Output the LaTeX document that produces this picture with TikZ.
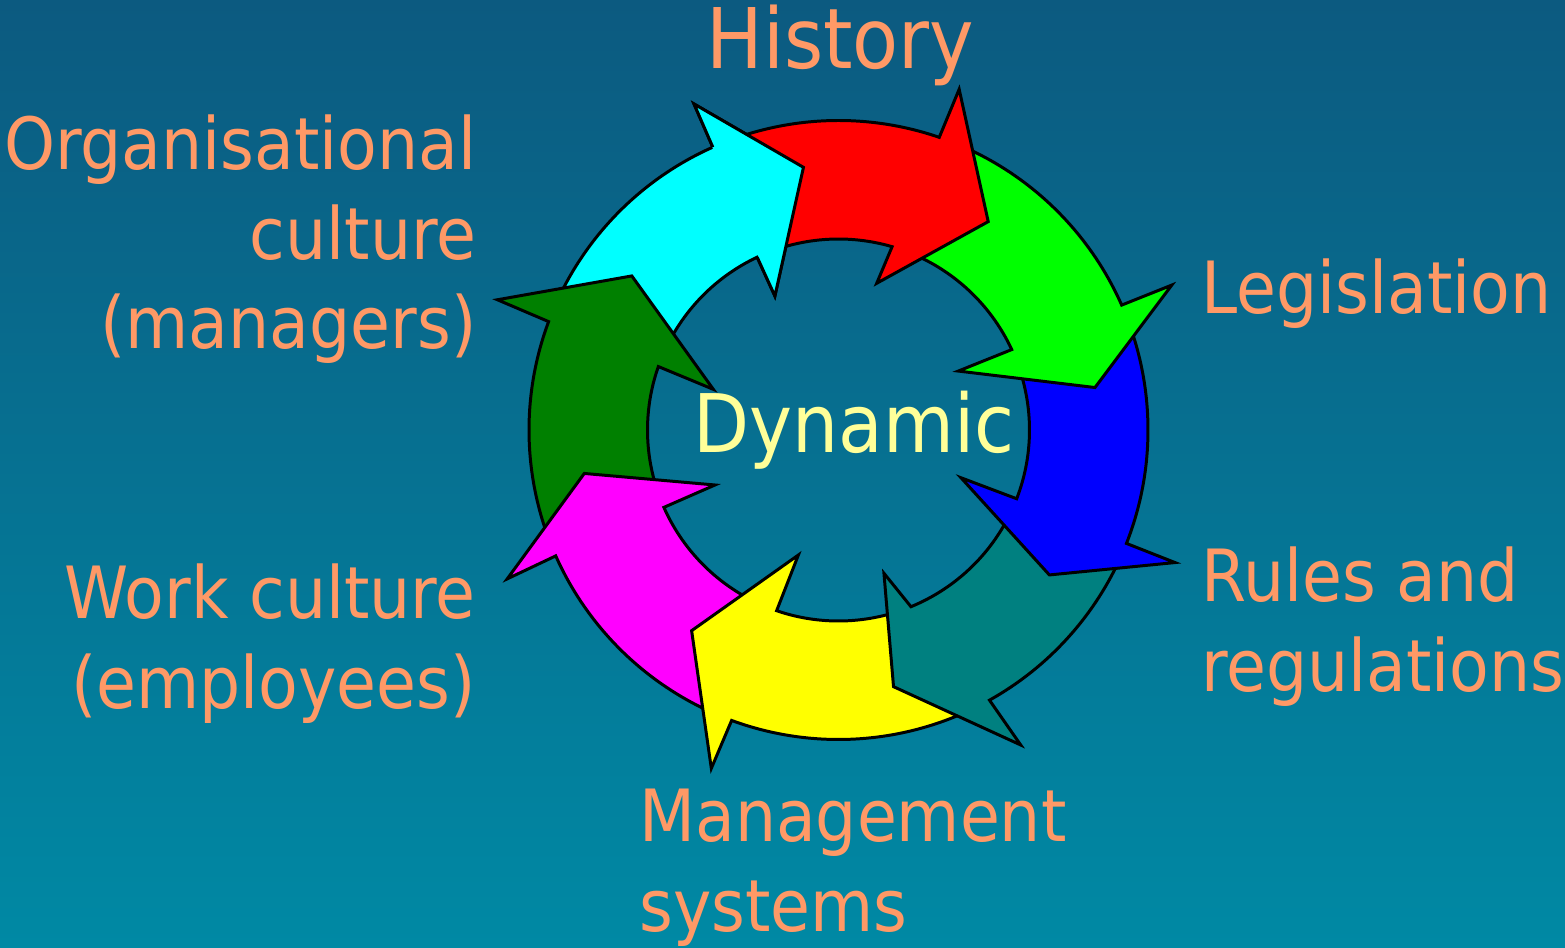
\documentclass[tikz,border=0pt]{standalone}
\usepackage{fontspec}
\setmainfont{DejaVu Sans}[FakeStretch=0.9]
\definecolor{bgtop}{RGB}{12,90,128}
\definecolor{bgbot}{RGB}{0,137,164}
\definecolor{labelorange}{RGB}{255,153,102}
\definecolor{hubyellow}{RGB}{255,255,153}
\definecolor{arrowcyan}{RGB}{0,255,255}
\definecolor{arrowmagenta}{RGB}{255,0,255}
\definecolor{arrowyellow}{RGB}{255,255,0}
\definecolor{arrowgreen}{RGB}{0,255,0}
\definecolor{arrowred}{RGB}{255,0,0}
\definecolor{arrowblue}{RGB}{0,0,255}
\definecolor{darkteal}{RGB}{0,128,128}
\definecolor{darkgreen}{RGB}{0,128,0}
\newcommand{\outerR}{3.095}
\newcommand{\innerR}{1.91}
\tikzset{
  ring/.style={draw=black, line width=0.85pt, line join=miter},
  lbl/.style={text=labelorange, inner sep=0pt, font=\fontsize{20.5}{25.6}\selectfont},
  title/.style={text=labelorange, inner sep=0pt, font=\fontsize{23.8}{28}\selectfont},
  hub/.style={text=hubyellow, inner sep=0pt, font=\fontsize{23}{28}\selectfont}
}
\begin{document}
\begin{tikzpicture}
\useasboundingbox (-8.385,-5.17) rectangle (7.265,4.30);
\shade[top color=bgtop, bottom color=bgbot] (-8.385,-5.17) rectangle (7.265,4.30);

% ring of arrows, drawn against the clock so each head lies on the next tail
\foreach \fc/\tailo/\taili/\shafto/\shafti/\hoa/\hor/\tipa/\tipr/\hia/\hir in {
  arrowcyan/157.5/158.6/113.96/115.2/113.9/3.566/97.6/2.65/115.4/1.483,
  darkgreen/202/201.9/159.5/160.6/159.1/3.651/143.3/2.578/162/1.316,
  arrowmagenta/-112.2/-110.9/-156/-156.1/-155.8/3.632/-170.3/2.579/-156/1.352,
  arrowyellow/-62.8/-69.7/-110.2/-108.9/-110.6/3.615/-126.2/2.487/-107.8/1.313,
  darkteal/-23.5/-23.1/-60.8/-67.7/-59.95/3.639/-77.9/2.625/-72.4/1.503,
  arrowblue/21.8/22.9/-21.5/-21.1/-21.5/3.617/-34.5/2.559/-21.3/1.315,
  arrowgreen/69/71.7/23.8/24.9/23.5/3.634/9.4/2.60/26.2/1.335,
  arrowred/112/113.2/71.0/73.7/70.5/3.615/54.3/2.566/75.4/1.516}
{
  \filldraw[ring, fill=\fc] (\tailo:\outerR) arc[start angle=\tailo, end angle=\shafto, radius=\outerR]
    -- (\hoa:\hor) -- (\tipa:\tipr) -- (\hia:\hir) -- (\shafti:\innerR)
    arc[start angle=\shafti, end angle=\taili, radius=\innerR] -- cycle;
}
% cyan head again, over the red tail
\fill[arrowcyan] (113.9:3.566) -- (97.6:2.65) -- (115.4:1.483) -- cycle;
\draw[ring] (113.96:\outerR) -- (113.9:3.566) -- (97.6:2.65) -- (115.4:1.483) -- (115.2:\innerR);

\node[hub, anchor=base] (dynamic) at (0.157,-0.223) {Dynamic};
\node[title, anchor=base] (history) at (0.02,3.61) {History};
% base of a multi-line node = last line
\node[lbl, anchor=base east, align=right] (orgcult) at (-3.615,0.81) {Organisational\\culture\\(managers)};
\node[lbl, anchor=base west] (legislation) at (3.625,1.16) {Legislation};
\node[lbl, anchor=base west, align=left] (rules) at (3.618,-2.617) {Rules and\\regulations};
\node[lbl, anchor=base west, align=left] (management) at (-1.999,-5.017) {Management\\systems};
\node[lbl, anchor=base east, align=right] (workcult) at (-3.62,-2.783) {Work culture\\(employees)};
\end{tikzpicture}
\end{document}
